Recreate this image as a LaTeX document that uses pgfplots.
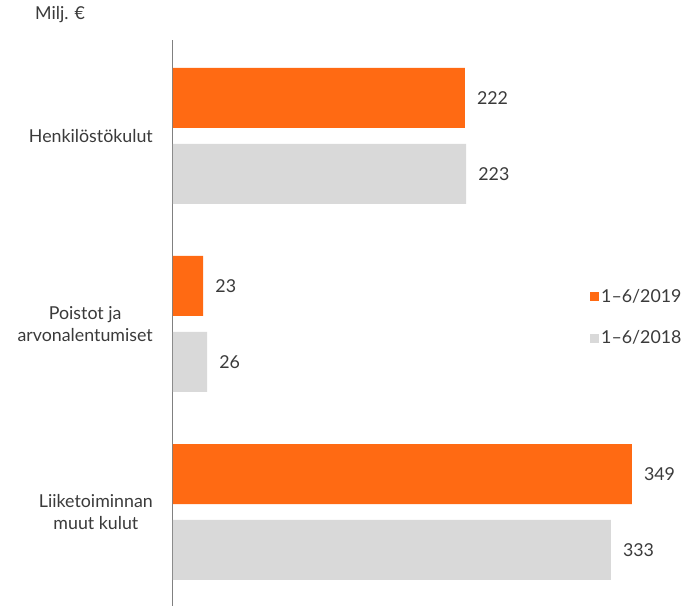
\documentclass[border=0pt]{standalone}
\usepackage{pgfplots}
\pgfplotsset{compat=1.18}
\usepackage{fontspec}
\setmainfont{Lato}
\definecolor{orng}{HTML}{FF6A13}
\definecolor{lgray}{HTML}{D9D9D9}
\definecolor{txt}{HTML}{3A3A3A}
\newcommand{\fs}{\fontsize{17.8}{21.5}\selectfont}
\begin{document}
\begin{tikzpicture}
\useasboundingbox (0,0) rectangle (691pt,606pt);
\node[anchor=west, font=\fs, text=txt, inner sep=0pt] at (35pt,591pt) {Milj. €};
\begin{axis}[
  at={(173pt,0pt)}, anchor=south west,
  scale only axis, width=518pt, height=566pt,
  xmin=0, xmax=394, ymin=-0.51, ymax=2.5, y dir=reverse,
  axis x line=none, axis y line*=left,
  y axis line style={draw=gray, line width=1pt},
  ytick={0,1,2},
  yticklabels={Henkilöstökulut,{Poistot ja\\arvonalentumiset},{Liiketoiminnan\\muut kulut}},
  yticklabel style={align=center, font=\fs, text=txt, inner sep=0pt},
  yticklabel shift=20pt,
  major tick length=0pt, tick style={draw=none},
  xbar, bar width=60pt, bar shift=0pt,
  point meta=explicit symbolic,
  nodes near coords,
  nodes near coords style={font=\fs, text=txt, anchor=west, inner sep=0pt, xshift=12pt},
  legend style={at={(axis description cs:0.805,0.5636)}, anchor=north west, draw=none, fill=none,
    font=\fs, text=txt, row sep=23pt, inner sep=0pt, cells={anchor=west},
    /tikz/every even column/.style={column sep=7pt}},
  legend image code/.code={\fill[#1, draw=none] (0pt,-4.5pt) rectangle (9pt,4.5pt);},
]
\addplot[fill=orng, draw=none] coordinates {(222,-0.202) [222] (23,0.798) [23] (349,1.798) [349]};
\addlegendentry{1–6/2019}
\addplot[fill=lgray, draw=none] coordinates {(223,0.202) [223] (26,1.202) [26] (333,2.202) [333]};
\addlegendentry{1–6/2018}
\end{axis}
\end{tikzpicture}
\end{document}
